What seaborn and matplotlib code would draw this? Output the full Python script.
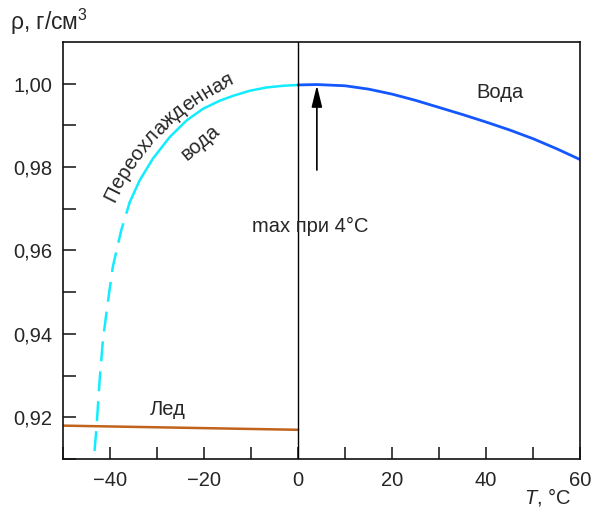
import numpy as np
import pandas as pd
import matplotlib
matplotlib.use("Agg")
import matplotlib.pyplot as plt
import seaborn as sns

# Плотность воды
t_water = [0, 4, 10, 15, 20, 25, 30, 35, 40, 45, 50, 55, 60]
rho_water = [0.9997, 0.9998, 0.9995, 0.9987, 0.9975, 0.9960, 0.9943,
             0.9926, 0.9908, 0.9889, 0.9868, 0.9844, 0.9818]

# Переохлажденная вода: сплошная часть
t_super = [-35.8, -33.7, -30.9, -27.3, -23.7, -20.2, -16.7, -13.8, -10.3, -6.7, -3.2, 0]
rho_super = [0.9716, 0.9768, 0.9820, 0.9872, 0.9912, 0.9940, 0.9959,
             0.9971, 0.9983, 0.9991, 0.9995, 0.9997]

# Переохлажденная вода: пунктирная часть
t_super_dash = [-43.3, -42.9, -42.2, -41.5, -40.4, -39.4, -37.6, -35.8]
rho_super_dash = [0.9119, 0.9171, 0.9290, 0.9386, 0.9481, 0.9561, 0.9649, 0.9716]

# Лед
t_ice = [-50, 0]
rho_ice = [0.9180, 0.9170]

x_ticks = [-50, -40, -30, -20, -10, 0, 10, 20, 30, 40, 50, 60]
x_labels = ["", "\u221240", "", "\u221220", "", "0", "", "20", "", "40", "", "60"]
y_ticks = [0.91, 0.92, 0.93, 0.94, 0.95, 0.96, 0.97, 0.98, 0.99, 1.00]
y_labels = ["", "0,92", "", "0,94", "", "0,96", "", "0,98", "", "1,00"]

sns.set_style("ticks", {"xtick.direction": "in", "ytick.direction": "in"})
plt.rcParams["font.family"] = ["Liberation Sans", "DejaVu Sans"]
plt.rcParams["font.size"] = 14.5
plt.rcParams["mathtext.fontset"] = "custom"
plt.rcParams["mathtext.it"] = "Liberation Sans:italic"
plt.rcParams["mathtext.rm"] = "Liberation Sans"

W, H = 592, 516
fig = plt.figure(figsize=(W / 100, H / 100), dpi=100)
ax = fig.add_axes([0.1064, 0.1105, 0.98 - 0.1064, 0.9186 - 0.1105])

cyan = "#12ecff"
blue = "#1457ff"
brown = "#c0631c"

sns.lineplot(x=t_super, y=rho_super, color=cyan, lw=1.8, ax=ax)
sns.lineplot(x=t_super_dash, y=rho_super_dash, color=cyan, lw=1.8, ax=ax)
ax.lines[-1].set_dashes((8, 4))
sns.lineplot(x=t_water, y=rho_water, color=blue, lw=2.0, ax=ax)
sns.lineplot(x=t_ice, y=rho_ice, color=brown, lw=1.8, ax=ax)

ax.axvline(0, color="black", lw=1.0)

ax.set_xlim(-50, 60)
ax.set_ylim(0.91, 1.01)
ax.set_xticks(x_ticks)
ax.set_xticklabels(x_labels)
ax.set_yticks(y_ticks)
ax.set_yticklabels(y_labels)
ax.tick_params(axis="both", direction="in", length=9, width=1.1, labelsize=14.5, color="#111111")
ax.tick_params(axis="y", pad=8)
ax.tick_params(axis="x", pad=9)
for s in ax.spines.values():
    s.set_visible(True)
    s.set_linewidth(1.2)
    s.set_color("#111111")
ax.set_xlabel("")
ax.set_ylabel("")

# подписи
ax.text(43.0, 0.9979, "Вода", ha="center", va="center", fontsize=14.5)
ax.text(-27.8, 0.9218, "Лед", ha="center", va="center", fontsize=14.5)
ax.text(2.6, 0.9658, "max при 4°C", ha="center", va="center", fontsize=14.5)
ax.text(-20.8, 0.9860, "вода", ha="center", va="center",
        rotation=40, rotation_mode="anchor", fontsize=14.5)

# "Переохлажденная" - надпись по дуге вдоль кривой
label = "Переохлажденная"
renderer = fig.canvas.get_renderer()


def text_width(s):
    if not s:
        return 0.0
    t = fig.text(0, 0, s, fontsize=14.5)
    w = t.get_window_extent(renderer).width
    t.remove()
    return w


widths = [text_width(label[:i]) for i in range(len(label) + 1)]
sx, sy = 114, H - 203          # начало базовой линии (пиксели)
R = 245.0                       # радиус дуги
phi0 = np.radians(155)
cx, cy = sx - R * np.cos(phi0), sy - R * np.sin(phi0)
for i, ch in enumerate(label):
    s_mid = (widths[i] + widths[i + 1]) / 2
    phi = phi0 - s_mid / R
    px, py = cx + R * np.cos(phi), cy + R * np.sin(phi)
    fig.text(px / W, py / H, ch, fontsize=14.5, rotation=np.degrees(phi) - 90,
             rotation_mode="anchor", ha="center", va="baseline")

ax.annotate("", xy=(4, 0.9996), xytext=(4, 0.9793),
            arrowprops=dict(arrowstyle="-|>,head_length=0.9,head_width=0.22",
                            color="black", lw=1.2, shrinkA=0, shrinkB=0))

fig.text(10 / W, 1 - 22 / H, "ρ, г/см$^3$", ha="left", va="center", fontsize=16.5)
fig.text(548 / W, 1 - 497 / H, "$\\mathit{T}$, °C", ha="center", va="center", fontsize=14.5)

fig.savefig("out.png", dpi=100)
